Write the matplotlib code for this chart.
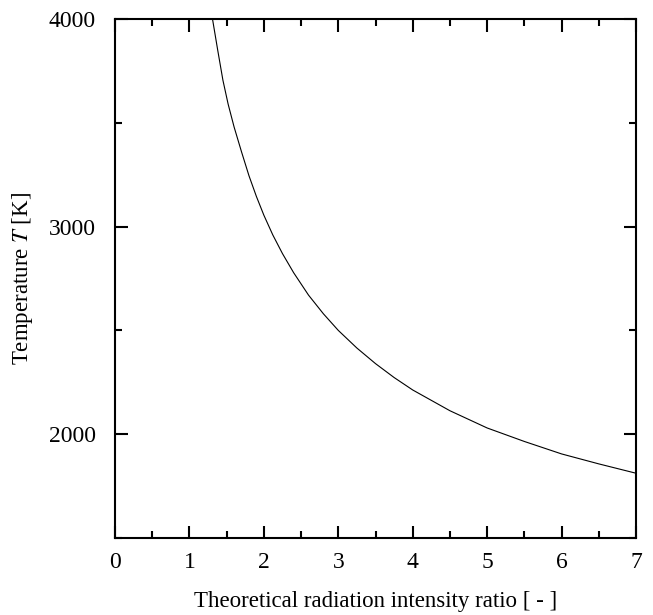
import numpy as np
import matplotlib
matplotlib.use("Agg")
import matplotlib.pyplot as plt
from matplotlib.ticker import MultipleLocator

# values
ratio = [1.31, 1.38, 1.45, 1.52, 1.6, 1.7, 1.8, 1.9, 2.0, 2.12, 2.25, 2.4, 2.6,
         2.8, 3.0, 3.25, 3.5, 3.75, 4.0, 4.5, 5.0, 5.5, 6.0, 6.5, 7.0]
temperature = [4000, 3850, 3705, 3590, 3480, 3360, 3245, 3145, 3055, 2960, 2870,
               2778, 2670, 2580, 2500, 2415, 2340, 2273, 2213, 2113, 2030, 1965,
               1905, 1857, 1812]

x_ticks = [0, 1, 2, 3, 4, 5, 6, 7]
y_ticks = [2000, 3000, 4000]

plt.rcParams['font.family'] = ['Liberation Serif', 'DejaVu Serif']
plt.rcParams['mathtext.fontset'] = 'stix'

fig = plt.figure(figsize=(6.53, 6.15), dpi=100)
ax = fig.add_axes([0.1761, 0.1252, 0.7979, 0.8439])

ax.plot(ratio, temperature, color='black', lw=0.8)

ax.set_xlim(0, 7)
ax.set_ylim(1500, 4000)
ax.set_xticks(x_ticks)
ax.set_yticks(y_ticks)
ax.xaxis.set_minor_locator(MultipleLocator(0.5))
ax.yaxis.set_minor_locator(MultipleLocator(500))

ax.tick_params(which='both', direction='in', top=True, right=True, width=1.5,
               labelsize=17)
ax.tick_params(which='major', length=9)
ax.tick_params(which='minor', length=5)
ax.tick_params(axis='y', pad=14)
ax.tick_params(axis='x', pad=10)

for s in ax.spines.values():
    s.set_linewidth(1.5)

ax.set_xlabel("Theoretical radiation intensity ratio [ - ]", fontsize=16.5, labelpad=13)
ax.set_ylabel("Temperature $\\mathit{T}$ [K]", fontsize=16.5, labelpad=10)

fig.savefig("out.png", dpi=100)
